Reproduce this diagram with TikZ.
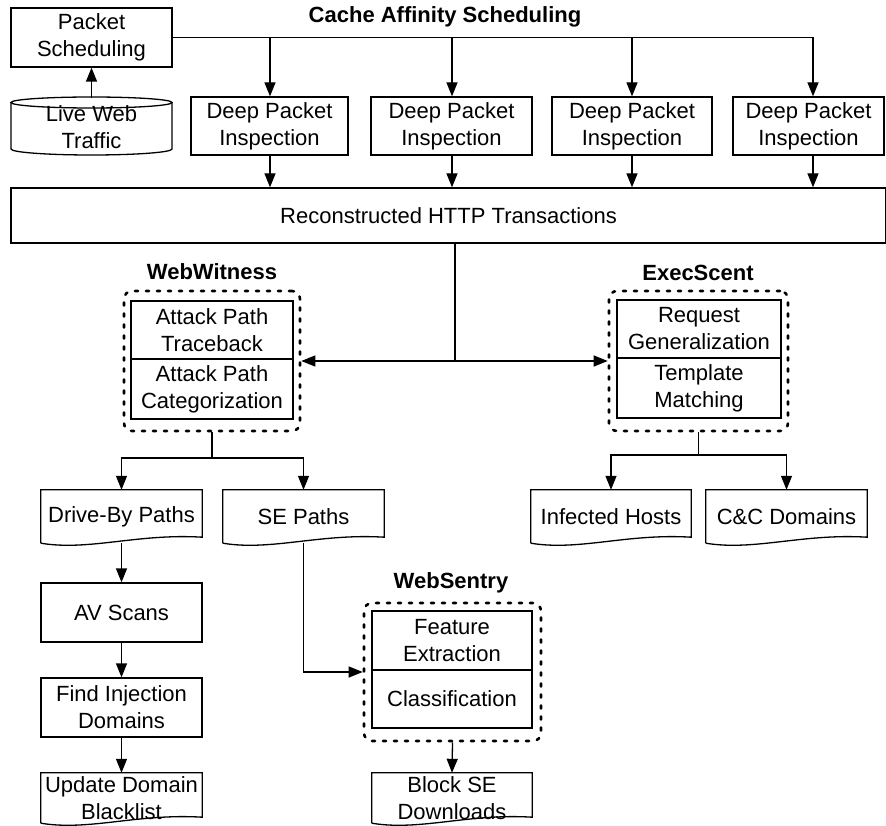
\documentclass[tikz,border=0pt]{standalone}
\usepackage{fontspec}
\setmainfont{Liberation Sans}
\usetikzlibrary{arrows.meta,calc}
\newcommand\lbl{\fontsize{22}{27}\selectfont}
\newcommand\ttl{\fontsize{22}{27}\selectfont\bfseries}
\tikzset{
 line/.style={line width=1.3pt},
 arr/.style={line, -{Triangle[length=14pt,width=11pt]}},
 darr/.style={line, {Triangle[length=14pt,width=11pt]}-{Triangle[length=14pt,width=11pt]}},
 box/.style={draw, line width=1.3pt, align=center, inner sep=0pt, font=\lbl},
 plain/.style={align=center, inner sep=0pt, font=\lbl},
 dotbox/.style={draw, line width=2.6pt, dash pattern=on 3pt off 8pt, line cap=round, rounded corners=8pt, inner sep=0pt},
 title/.style={font=\ttl, inner sep=0pt},
}
\newcommand\docshape[1]{\draw[line] (#1.south west) -- (#1.north west) -- (#1.north east) -- ($(#1.south east)+(0,-6)$) .. controls ($(#1.south west)!0.6!(#1.south east)+(0,-10)$) and ($(#1.south west)!0.3!(#1.south east)+(0,8)$) .. (#1.south west);}
\begin{document}
\begin{tikzpicture}[x=1pt,y=-1pt]
\useasboundingbox (0,0) rectangle (886,826);
% top
\node[box, minimum width=161pt, minimum height=59pt] (ps) at (91.5,37.5) {Packet\\Scheduling};
\draw[line] (11,102.5) -- (11,149) arc[start angle=180, end angle=360, x radius=80.5pt, y radius=6pt] -- (172,102.5);
\draw[line] (91.5,102.5) ellipse [x radius=80.5pt, y radius=5.5pt];
\node[plain, minimum width=161pt, minimum height=58pt] (traffic) at (91.5,127) {Live Web\\Traffic};
\draw[arr] (traffic.north) -- (ps.south);
\node[title] (cas) at (445,17) {Cache Affinity Scheduling};
\node[box, minimum width=157pt, minimum height=58pt] (dpi1) at (269.5,126) {Deep Packet\\Inspection};
\node[box, minimum width=161pt, minimum height=58pt] (dpi2) at (451.5,126) {Deep Packet\\Inspection};
\node[box, minimum width=160pt, minimum height=58pt] (dpi3) at (632,126) {Deep Packet\\Inspection};
\node[box, minimum width=151pt, minimum height=58pt] (dpi4) at (808.5,126) {Deep Packet\\Inspection};
\coordinate (b1) at (270,37.5);
\coordinate (b2) at (452,37.5);
\coordinate (b3) at (632,37.5);
\coordinate (b4) at (813,37.5);
\draw[arr] (ps.east) -- (b4) -- (b4 |- dpi4.north);
\draw[arr] (b1) -- (b1 |- dpi1.north);
\draw[arr] (b2) -- (b2 |- dpi2.north);
\draw[arr] (b3) -- (b3 |- dpi3.north);
\node[box, minimum width=875pt, minimum height=55pt] (recon) at (448.5,215.5) {Reconstructed HTTP Transactions};
\draw[arr] (b1 |- dpi1.south) -- (b1 |- recon.north);
\draw[arr] (b2 |- dpi2.south) -- (b2 |- recon.north);
\draw[arr] (b3 |- dpi3.south) -- (b3 |- recon.north);
\draw[arr] (b4 |- dpi4.south) -- (b4 |- recon.north);
% WebWitness
\node[title] (wwt) at (212,272) {WebWitness};
\node[box, minimum width=162pt, minimum height=58pt] (ww1) at (212,330) {Attack Path\\Traceback};
\node[box, minimum width=162pt, minimum height=60pt] (ww2) at (212,389) {Attack Path\\Categorization};
\node[dotbox, minimum width=176pt, minimum height=140pt] (wwb) at (212,361) {};
% ExecScent
\node[title] (est) at (698,273) {ExecScent};
\node[box, minimum width=164pt, minimum height=58pt] (es1) at (699,329) {Request\\Generalization};
\node[box, minimum width=164pt, minimum height=60pt] (es2) at (699,388) {Template\\Matching};
\node[dotbox, minimum width=179pt, minimum height=140pt] (esb) at (698.5,361) {};
\coordinate (j) at (455,361);
\draw[line] (j |- recon.south) -- (j);
\draw[darr] (wwb.east) -- (esb.west);
% documents row
\node[plain, minimum width=161pt, minimum height=53pt] (drive) at (121.5,516.5) {Drive-By Paths};
\node[plain, minimum width=161pt, minimum height=53pt] (se) at (303.5,516.5) {SE Paths};
\node[plain, minimum width=160pt, minimum height=53pt] (inf) at (611,516.5) {Infected Hosts};
\node[plain, minimum width=161pt, minimum height=53pt] (cc) at (786.5,516.5) {C\&C Domains};
\docshape{drive}\docshape{se}\docshape{inf}\docshape{cc}
\coordinate (wwj) at (212,458);
\draw[line] (wwb.south) -- (wwj);
\draw[arr] (wwj) -| (drive.north);
\draw[arr] (wwj) -| (se.north);
\coordinate (esj) at (698.5,455);
\draw[line] (esb.south) -- (esj);
\draw[arr] (esj) -| (inf.north);
\draw[arr] (esj) -| (cc.north);
% left column
\node[box, minimum width=161pt, minimum height=59pt] (av) at (121.5,612.5) {AV Scans};
\node[box, minimum width=161pt, minimum height=59pt] (find) at (121.5,707.5) {Find Injection\\Domains};
\node[plain, minimum width=161pt, minimum height=50pt] (upd) at (121.5,798) {Update Domain\\Blacklist};
\docshape{upd}
\draw[arr] (drive.south) -- (av.north);
\draw[arr] (av.south) -- (find.north);
\draw[arr] (find.south) -- (upd.north);
% WebSentry
\node[title] (wst) at (451,583) {WebSentry};
\node[box, minimum width=160pt, minimum height=59pt] (ws1) at (452,640.5) {Feature\\Extraction};
\node[box, minimum width=160pt, minimum height=58pt] (ws2) at (452,699) {Classification};
\node[dotbox, minimum width=177pt, minimum height=138pt] (wsb) at (452.5,672) {};
\node[plain, minimum width=160pt, minimum height=50pt] (blk) at (452,798) {Block SE\\Downloads};
\docshape{blk}
\draw[arr] (se.south) |- (wsb.west);
\draw[arr] (wsb.south) -- (blk.north);
\end{tikzpicture}
\end{document}
